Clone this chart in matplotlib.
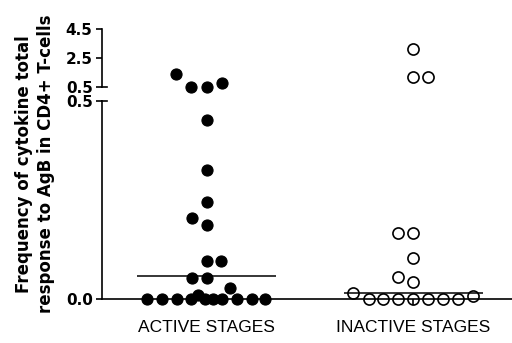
import numpy as np
import matplotlib
matplotlib.use('Agg')
import matplotlib.pyplot as plt
from matplotlib.lines import Line2D

categories = ['ACTIVE STAGES', 'INACTIVE STAGES']
active_values = [1.38, 0.74, 0.51, 0.50, 0.452, 0.326, 0.244, 0.204, 0.187,
                 0.096, 0.096, 0.054, 0.054, 0.027, 0.010,
                 0, 0, 0, 0, 0, 0, 0, 0, 0, 0]
active_offsets = [-0.149, 0.073, -0.076, 0.0, 0.0, 0.0, 0.0, -0.073, 0.0,
                  0.0, 0.070, -0.073, 0.0, 0.113, -0.041,
                  -0.290, -0.218, -0.145, -0.076, -0.008, 0.032, 0.073, 0.145, 0.218, 0.282]
inactive_values = [3.11, 1.155, 1.155, 0.166, 0.166, 0.104, 0.055, 0.044, 0.016, 0.008,
                   0, 0, 0, 0, 0, 0, 0]
inactive_offsets = [0.0, 0.0, 0.070, -0.073, 0.0, 0.0, -0.073, 0.0, -0.290, 0.290,
                    -0.213, -0.145, -0.073, 0.0, 0.073, 0.145, 0.218]
medians = [0.058, 0.016]
ylabel = 'Frequency of cytokine total\nresponse to AgB in CD4+ T-cells'
bottom_ticks = [0.0, 0.5]
top_ticks = [0.5, 2.5, 4.5]
break_value = 0.5

fig = plt.figure(figsize=(5.12, 3.43), dpi=100)
ax_bot = fig.add_axes([0.1986, 0.1283, 0.8014, 0.5772])
ax_top = fig.add_axes([0.1986, 0.7472, 0.8014, 0.1674])

xlim = (-0.508, 1.478)
for ax in (ax_bot, ax_top):
    ax.set_xlim(*xlim)
    ax.spines['top'].set_visible(False)
    ax.spines['right'].set_visible(False)
    for s in ax.spines.values():
        s.set_linewidth(1.2)
    ax.tick_params(axis='y', direction='out', length=4, width=1.2, pad=2.5)
    ax.patch.set_alpha(0)

ax_top.spines['bottom'].set_visible(False)
ax_top.set_xticks([])
ax_bot.set_ylim(0, break_value)
ax_top.set_ylim(break_value, 4.5)
ax_bot.set_yticks(bottom_ticks)
ax_top.set_yticks(top_ticks)
for ax in (ax_bot, ax_top):
    ax.set_yticklabels([f'{t:.1f}' for t in ax.get_yticks()],
                       fontfamily='DejaVu Sans', fontweight='bold', fontsize=11)

ax_bot.set_xticks(range(len(categories)))
ax_bot.set_xticklabels(categories, fontfamily='Liberation Sans', fontsize=12.5)
ax_bot.tick_params(axis='x', direction='out', length=4, width=1.2, pad=11)

styles = [dict(color='black', markerfacecolor='black', markeredgecolor='black', markeredgewidth=0.8),
          dict(color='black', markerfacecolor='none', markeredgecolor='black', markeredgewidth=1.2)]
groups = [(active_values, active_offsets), (inactive_values, inactive_offsets)]
for i, (vals, offs) in enumerate(groups):
    vals = np.array(vals, dtype=float)
    xs = i + np.array(offs)
    top = vals >= break_value
    ax_top.plot(xs[top], vals[top], 'o', markersize=8, linestyle='none',
                clip_on=False, zorder=3, **styles[i])
    ax_bot.plot(xs[~top], vals[~top], 'o', markersize=8, linestyle='none',
                clip_on=False, zorder=3, **styles[i])
    ax_bot.hlines(medians[i], i - 0.337, i + 0.337, color='black', linewidth=1.1, zorder=4)

# break marks (short bars to the right of the spine at the break)
for ax in (ax_top, ax_bot):
    ax.add_line(Line2D([0, 0.0134], [break_value, break_value], color='black',
                       linewidth=1.2, transform=ax.get_yaxis_transform(), clip_on=False))

fig.text(0.068, 0.522, ylabel, rotation=90, ha='center', va='center',
         multialignment='center', fontfamily='DejaVu Sans', fontweight='bold',
         fontsize=12, linespacing=1.3)

fig.savefig('out.png', dpi=100)
